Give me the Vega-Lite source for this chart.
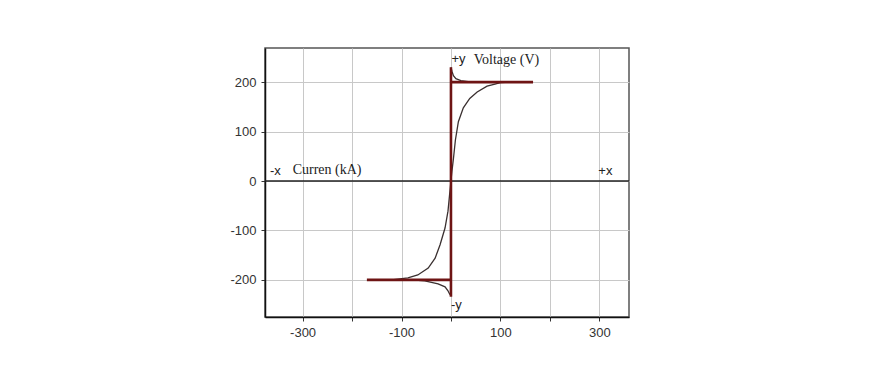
{
  "$schema": "https://vega.github.io/schema/vega-lite/v6.json",
  "width": 364,
  "height": 269,
  "autosize": {"type": "none"},
  "padding": {"left": 265, "top": 48, "right": 260, "bottom": 57},
  "background": "white",
  "config": {
    "view": {"stroke": "#555", "strokeWidth": 1.5},
    "axis": {
      "labelFont": "Liberation Sans",
      "labelFontSize": 13,
      "labelColor": "#333",
      "domainColor": "#111",
      "domainWidth": 1.5,
      "tickColor": "#333",
      "tickSize": 4,
      "gridColor": "#c8c8c8",
      "gridWidth": 1,
      "title": null
    }
  },
  "datasets": {
    "curves": [
      {"series": "red", "seg": "a", "i": 1, "x": -170, "y": -200},
      {"series": "red", "seg": "a", "i": 2, "x": 0, "y": -200},
      {"series": "red", "seg": "b", "i": 1, "x": 0, "y": -234},
      {"series": "red", "seg": "b", "i": 2, "x": 0, "y": 230},
      {"series": "red", "seg": "c", "i": 1, "x": 0, "y": 200},
      {"series": "red", "seg": "c", "i": 2, "x": 166, "y": 200},
      {"series": "thin", "seg": "s", "i": 1, "x": -120, "y": -200},
      {"series": "thin", "seg": "s", "i": 2, "x": -87, "y": -196},
      {"series": "thin", "seg": "s", "i": 3, "x": -67, "y": -190},
      {"series": "thin", "seg": "s", "i": 4, "x": -46, "y": -176},
      {"series": "thin", "seg": "s", "i": 5, "x": -32, "y": -156},
      {"series": "thin", "seg": "s", "i": 6, "x": -22, "y": -129},
      {"series": "thin", "seg": "s", "i": 7, "x": -12, "y": -95},
      {"series": "thin", "seg": "s", "i": 8, "x": -6, "y": -61},
      {"series": "thin", "seg": "s", "i": 9, "x": -3, "y": -30},
      {"series": "thin", "seg": "s", "i": 10, "x": 0, "y": 0},
      {"series": "thin", "seg": "s", "i": 11, "x": 2, "y": 20},
      {"series": "thin", "seg": "s", "i": 12, "x": 5, "y": 45},
      {"series": "thin", "seg": "s", "i": 13, "x": 9, "y": 83},
      {"series": "thin", "seg": "s", "i": 14, "x": 15, "y": 120},
      {"series": "thin", "seg": "s", "i": 15, "x": 25, "y": 148},
      {"series": "thin", "seg": "s", "i": 16, "x": 38, "y": 167},
      {"series": "thin", "seg": "s", "i": 17, "x": 53, "y": 180},
      {"series": "thin", "seg": "s", "i": 18, "x": 73, "y": 192},
      {"series": "thin", "seg": "s", "i": 19, "x": 89, "y": 196},
      {"series": "thin", "seg": "s", "i": 20, "x": 100, "y": 199},
      {"series": "thin", "seg": "s", "i": 21, "x": 120, "y": 200},
      {"series": "thin", "seg": "u", "i": 1, "x": 0, "y": 230},
      {"series": "thin", "seg": "u", "i": 2, "x": 2, "y": 222},
      {"series": "thin", "seg": "u", "i": 3, "x": 5, "y": 213},
      {"series": "thin", "seg": "u", "i": 4, "x": 10, "y": 207},
      {"series": "thin", "seg": "u", "i": 5, "x": 20, "y": 203},
      {"series": "thin", "seg": "u", "i": 6, "x": 35, "y": 201},
      {"series": "thin", "seg": "u", "i": 7, "x": 60, "y": 200},
      {"series": "thin", "seg": "u", "i": 8, "x": 80, "y": 200},
      {"series": "thin", "seg": "l", "i": 1, "x": 0, "y": -232},
      {"series": "thin", "seg": "l", "i": 2, "x": -3, "y": -228},
      {"series": "thin", "seg": "l", "i": 3, "x": -6, "y": -222},
      {"series": "thin", "seg": "l", "i": 4, "x": -12, "y": -214},
      {"series": "thin", "seg": "l", "i": 5, "x": -26, "y": -208},
      {"series": "thin", "seg": "l", "i": 6, "x": -53, "y": -202},
      {"series": "thin", "seg": "l", "i": 7, "x": -80, "y": -200}
    ],
    "sansText": [
      {"label": "+y", "x": 1, "y": 246},
      {"label": "-x", "x": -366, "y": 20},
      {"label": "+x", "x": 298, "y": 20},
      {"label": "-y", "x": 0, "y": -250}
    ],
    "serifText": [
      {"label": "Voltage (V)", "x": 46, "y": 245},
      {"label": "Curren (kA)", "x": -320, "y": 23}
    ],
    "zero": [{"y": 0}]
  },
  "layer": [
    {
      "data": {"name": "zero"},
      "mark": {"type": "rule", "color": "#222", "strokeWidth": 1.5},
      "encoding": {
        "y": {
          "field": "y", "type": "quantitative",
          "scale": {"domain": [-275, 269], "nice": false, "zero": false},
          "axis": {"values": [-200, -100, 0, 100, 200], "labelExpr": "'' + datum.value", "grid": true, "labelPadding": 5}
        }
      }
    },
    {
      "data": {"name": "curves"},
      "transform": [{"filter": "datum.series == 'thin'"}],
      "mark": {"type": "line", "color": "#3a3030", "strokeWidth": 1.3, "clip": true},
      "encoding": {
        "x": {
          "field": "x", "type": "quantitative",
          "scale": {"domain": [-376, 360], "nice": false, "zero": false},
          "axis": {
            "values": [-300, -200, -100, 0, 100, 200, 300],
            "labelExpr": "abs(datum.value) % 200 == 100 ? '' + datum.value : ''",
            "grid": true,
            "labelPadding": 5
          }
        },
        "y": {"field": "y", "type": "quantitative"},
        "detail": {"field": "seg"},
        "order": {"field": "i", "type": "quantitative"}
      }
    },
    {
      "data": {"name": "curves"},
      "transform": [{"filter": "datum.series == 'red'"}],
      "mark": {"type": "line", "color": "#6e1414", "strokeWidth": 2.6, "clip": true},
      "encoding": {
        "x": {"field": "x", "type": "quantitative"},
        "y": {"field": "y", "type": "quantitative"},
        "detail": {"field": "seg"},
        "order": {"field": "i", "type": "quantitative"}
      }
    },
    {
      "data": {"name": "sansText"},
      "mark": {"type": "text", "align": "left", "baseline": "middle", "font": "Liberation Sans", "fontSize": 13, "color": "#222"},
      "encoding": {
        "x": {"field": "x", "type": "quantitative"},
        "y": {"field": "y", "type": "quantitative"},
        "text": {"field": "label"}
      }
    },
    {
      "data": {"name": "serifText"},
      "mark": {"type": "text", "align": "left", "baseline": "middle", "font": "Liberation Serif", "fontSize": 14, "color": "#222"},
      "encoding": {
        "x": {"field": "x", "type": "quantitative"},
        "y": {"field": "y", "type": "quantitative"},
        "text": {"field": "label"}
      }
    }
  ]
}
